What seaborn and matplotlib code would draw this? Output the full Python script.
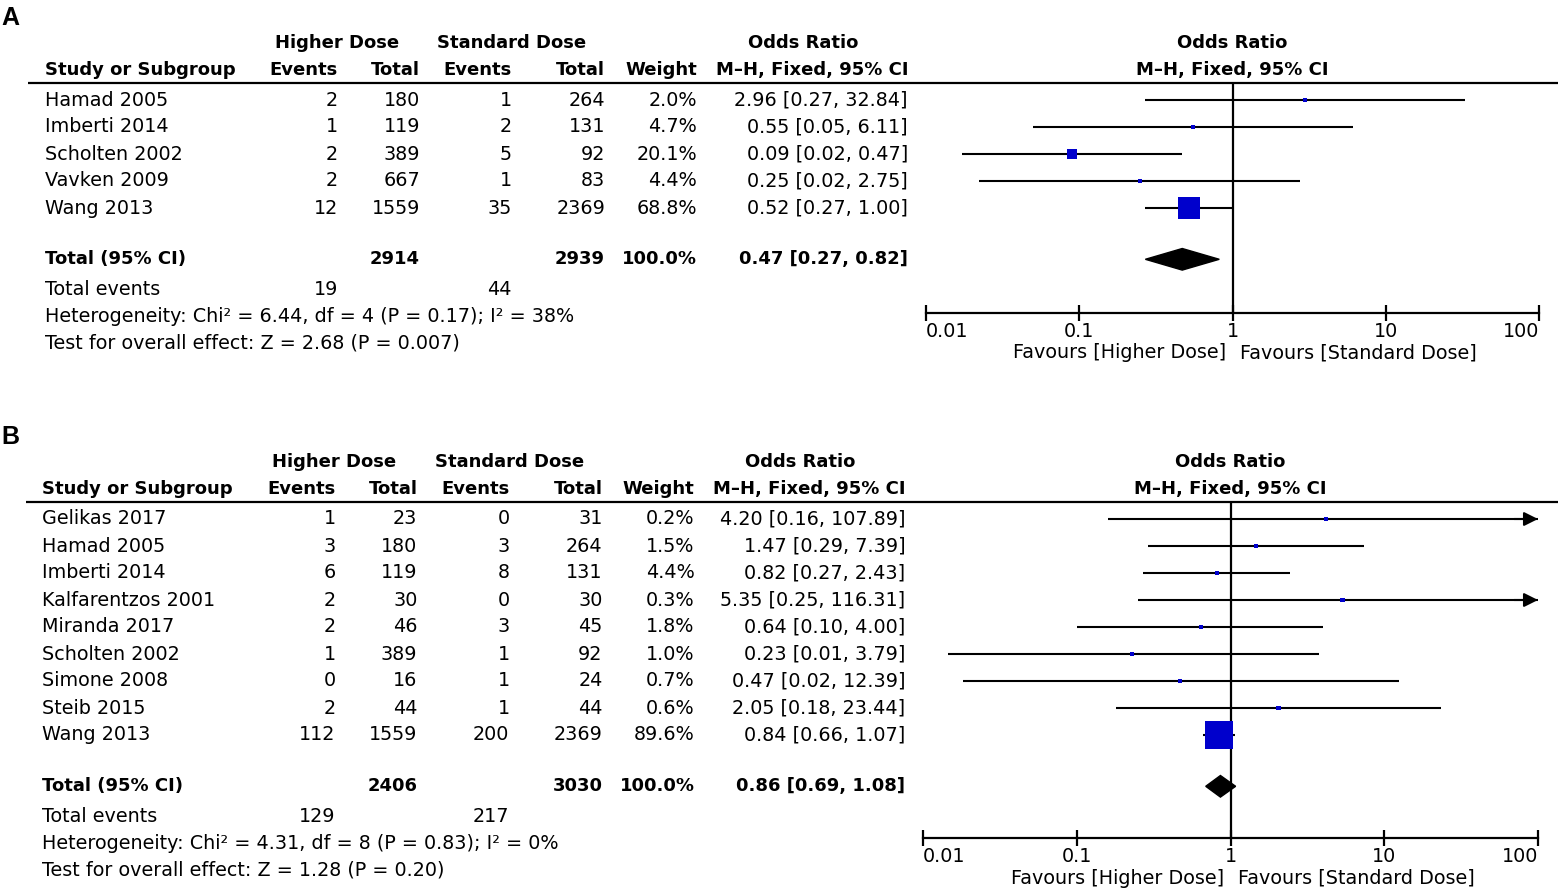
import numpy as np
import pandas as pd
import matplotlib
matplotlib.use("Agg")
import matplotlib.pyplot as plt
import seaborn as sns
from matplotlib.ticker import NullLocator

# Panel A data
studies_a = ["Hamad 2005", "Imberti 2014", "Scholten 2002", "Vavken 2009", "Wang 2013"]
hd_events_a = [2, 1, 2, 2, 12]
hd_total_a = [180, 119, 389, 667, 1559]
sd_events_a = [1, 2, 5, 1, 35]
sd_total_a = [264, 131, 92, 83, 2369]
weight_a = [2.0, 4.7, 20.1, 4.4, 68.8]
or_a = [2.96, 0.55, 0.09, 0.25, 0.52]
lo_a = [0.27, 0.05, 0.0172, 0.0221, 0.27]
hi_a = [32.84, 6.11, 0.47, 2.75, 1.00]
pooled_a = [0.47, 0.27, 0.82]
totals_a = [2914, 2939]
tot_events_a = [19, 44]
het_a = "Heterogeneity: Chi² = 6.44, df = 4 (P = 0.17); I² = 38%"
test_a = "Test for overall effect: Z = 2.68 (P = 0.007)"

# Panel B data
studies_b = ["Gelikas 2017", "Hamad 2005", "Imberti 2014", "Kalfarentzos 2001", "Miranda 2017",
             "Scholten 2002", "Simone 2008", "Steib 2015", "Wang 2013"]
hd_events_b = [1, 3, 6, 2, 2, 1, 0, 2, 112]
hd_total_b = [23, 180, 119, 30, 46, 389, 16, 44, 1559]
sd_events_b = [0, 3, 8, 0, 3, 1, 1, 1, 200]
sd_total_b = [31, 264, 131, 30, 45, 92, 24, 44, 2369]
weight_b = [0.2, 1.5, 4.4, 0.3, 1.8, 1.0, 0.7, 0.6, 89.6]
or_b = [4.20, 1.47, 0.82, 5.35, 0.64, 0.23, 0.47, 2.05, 0.84]
lo_b = [0.16, 0.29, 0.27, 0.25, 0.10, 0.0145, 0.0182, 0.18, 0.66]
hi_b = [107.89, 7.39, 2.43, 116.31, 4.00, 3.79, 12.39, 23.44, 1.07]
pooled_b = [0.86, 0.69, 1.08]
totals_b = [2406, 3030]
tot_events_b = [129, 217]
het_b = "Heterogeneity: Chi² = 4.31, df = 8 (P = 0.83); I² = 0%"
test_b = "Test for overall effect: Z = 1.28 (P = 0.20)"

sns.set_theme(style="white")
plt.rcParams['font.family'] = ['DejaVu Sans']
plt.rcParams['text.color'] = 'black'
plt.rcParams['xtick.color'] = 'black'
plt.rcParams['xtick.labelcolor'] = 'black'

W, H = 1560, 893
fig = plt.figure(figsize=(W / 100, H / 100), dpi=100)
txt = fig.add_axes([0, 0, 1, 1])
txt.set_xlim(0, W)
txt.set_ylim(H, 0)
txt.axis("off")

FS = 13.8
FB = 13.0
ROW = 27
BLUE = "#0000cc"


def fmt_ci(o, l, h):
    return f"{o:.2f} [{l:.2f}, {h:.2f}]"


def draw_panel(letter, y0, dx, fx0, fx1, ax_y, studies, hde, hdt, sde, sdt, wt, ors, los, his,
               pooled, totals, tot_ev, het, test):
    # column right edges
    c_ev1, c_t1, c_ev2, c_t2, c_w, c_ci = [v + dx for v in (338, 420, 512, 605, 697, 908)]
    x_study = 45 + dx
    txt.text(1, y0 - 25, letter, fontsize=18, fontweight="bold", family="Liberation Sans",
             va="center", ha="left")
    h1, h2 = y0, y0 + 27
    txt.text(337 + dx, h1, "Higher Dose", fontsize=FB, fontweight="bold", ha="center", va="center")
    txt.text(512 + dx, h1, "Standard Dose", fontsize=FB, fontweight="bold", ha="center", va="center")
    txt.text(803 + dx, h1, "Odds Ratio", fontsize=FB, fontweight="bold", ha="center", va="center")
    mid = (fx0 + fx1) / 2
    txt.text(mid - 0.5, h1, "Odds Ratio", fontsize=FB, fontweight="bold", ha="center", va="center")
    txt.text(x_study, h2, "Study or Subgroup", fontsize=FB, fontweight="bold", ha="left", va="center")
    for x, s in [(c_ev1, "Events"), (c_t1, "Total"), (c_ev2, "Events"), (c_t2, "Total"),
                 (c_w, "Weight"), (c_ci, "M–H, Fixed, 95% CI")]:
        txt.text(x, h2, s, fontsize=FB, fontweight="bold", ha="right", va="center")
    txt.text(mid - 0.5, h2, "M–H, Fixed, 95% CI", fontsize=FB, fontweight="bold", ha="center", va="center")
    line_y = y0 + 40
    txt.hlines(line_y, 28 + dx, 1558, color="black", lw=1.6)

    first = line_y + 17
    n = len(studies)
    for i in range(n):
        yy = first + i * ROW
        txt.text(x_study, yy, studies[i], fontsize=FS, ha="left", va="center")
        for x, v in [(c_ev1, hde[i]), (c_t1, hdt[i]), (c_ev2, sde[i]), (c_t2, sdt[i])]:
            txt.text(x, yy, str(v), fontsize=FS, ha="right", va="center")
        txt.text(c_w, yy, f"{wt[i]:.1f}%", fontsize=FS, ha="right", va="center")
        txt.text(c_ci, yy, fmt_ci(ors[i], los[i], his[i]), fontsize=FS, ha="right", va="center")

    tot_pos = n - 1 + 1.9
    ty = first + tot_pos * ROW
    txt.text(x_study, ty, "Total (95% CI)", fontsize=FB, fontweight="bold", ha="left", va="center")
    txt.text(c_t1, ty, str(totals[0]), fontsize=FB, fontweight="bold", ha="right", va="center")
    txt.text(c_t2, ty, str(totals[1]), fontsize=FB, fontweight="bold", ha="right", va="center")
    txt.text(c_w, ty, "100.0%", fontsize=FB, fontweight="bold", ha="right", va="center")
    txt.text(c_ci, ty, fmt_ci(*pooled), fontsize=FB, fontweight="bold", ha="right", va="center")
    ey = ty + 30
    txt.text(x_study, ey, "Total events", fontsize=FS, ha="left", va="center")
    txt.text(c_ev1, ey, str(tot_ev[0]), fontsize=FS, ha="right", va="center")
    txt.text(c_ev2, ey, str(tot_ev[1]), fontsize=FS, ha="right", va="center")
    txt.text(x_study, ey + 27, het, fontsize=FS, ha="left", va="center")
    txt.text(x_study, ey + 54, test, fontsize=FS, ha="left", va="center")

    # forest axes: top = rule line, bottom = x axis line
    ax = fig.add_axes([fx0 / W, 1 - ax_y / H, (fx1 - fx0) / W, (ax_y - line_y) / H])
    ax.set_facecolor("none")
    ax.set_xscale("log")
    ax.set_xlim(0.01, 100)
    ax.set_ylim((ax_y - first) / ROW, (line_y - first) / ROW)
    ax.grid(False)
    for s in ["top", "left", "right"]:
        ax.spines[s].set_visible(False)
    ax.spines["bottom"].set_linewidth(1.6)
    ax.spines["bottom"].set_color("black")
    ax.set_yticks([])
    ax.xaxis.set_minor_locator(NullLocator())
    ax.set_xticks([0.01, 0.1, 1, 10, 100], ["0.01", "0.1", "1", "10", "100"])
    ax.tick_params(axis="x", direction="inout", length=11, width=1.6, color="black",
                   labelsize=FS, pad=1, bottom=True)
    labs = ax.get_xticklabels()
    labs[0].set_ha("left")
    labs[-1].set_ha("right")

    ax.axvline(1, color="black", lw=1.6, zorder=1)
    pos = np.arange(n)
    df = pd.DataFrame({"or": ors, "lo": los, "hi": his, "w": wt, "y": pos})
    ax.hlines(df["y"], df["lo"], df["hi"].clip(upper=100), color="black", lw=1.5, zorder=2)
    for _, r in df[df["hi"] > 100].iterrows():
        ax.annotate("", xy=(100, r["y"]), xytext=(70, r["y"]),
                    arrowprops=dict(arrowstyle="-|>,head_length=0.7,head_width=0.35",
                                    color="black", lw=1.5, shrinkA=0, shrinkB=0),
                    annotation_clip=False)
    side_px = np.maximum(1.18 * df["w"] ** 0.7, 4.2)
    sizes = {w: (s * 0.72) ** 2 for w, s in zip(df["w"], side_px)}
    sns.scatterplot(data=df, x="or", y="y", size="w", sizes=sizes, marker="s", color=BLUE,
                    linewidth=0, legend=False, ax=ax, zorder=3)
    ax.set_xlabel("")
    ax.set_ylabel("")
    po, pl, ph = pooled
    hh = 0.4
    ax.fill([pl, po, ph, po], [tot_pos, tot_pos - hh, tot_pos, tot_pos + hh], color="black", zorder=3)

    fy = ax_y + 40
    txt.text(mid - 6, fy, "Favours [Higher Dose]", fontsize=FS, ha="right", va="center")
    txt.text(mid + 8, fy, "Favours [Standard Dose]", fontsize=FS, ha="left", va="center")


draw_panel("A", 43, 0, 926, 1539, 313, studies_a, hd_events_a, hd_total_a, sd_events_a, sd_total_a,
           weight_a, or_a, lo_a, hi_a, pooled_a, totals_a, tot_events_a, het_a, test_a)
draw_panel("B", 462, -2.5, 923, 1538, 838, studies_b, hd_events_b, hd_total_b, sd_events_b, sd_total_b,
           weight_b, or_b, lo_b, hi_b, pooled_b, totals_b, tot_events_b, het_b, test_b)

fig.savefig("out.png", dpi=100)
